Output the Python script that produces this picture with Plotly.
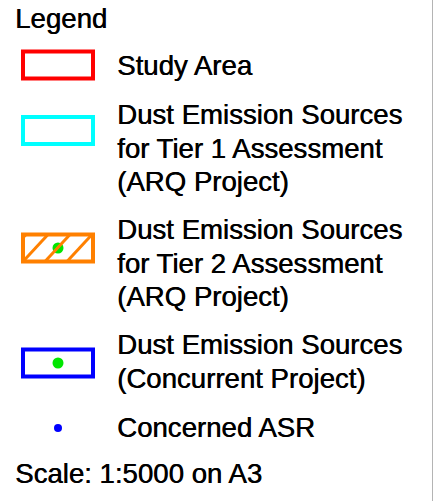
import plotly.graph_objects as go

# ---- data ----
title = "Legend"
entry_labels = [
    ["Study Area"],
    ["Dust Emission Sources", "for Tier 1 Assessment", "(ARQ Project)"],
    ["Dust Emission Sources", "for Tier 2 Assessment", "(ARQ Project)"],
    ["Dust Emission Sources", "(Concurrent Project)"],
    ["Concerned ASR"],
]
entry_kinds = ["rect", "rect", "hatch", "rect_dot", "dot"]
entry_colors = ["#ff0000", "#00ffff", "#ff8000", "#0000ff", "#0000ff"]
scale_text = "Scale: 1:5000 on A3"

# ---- layout params ----
W, H = 433, 501
FONT = dict(family="Liberation Sans, Arial, sans-serif", size=27.6, color="black",
            shadow="0.5px 0px 0px black")
line_gap = 33.5
first_line_y = [65, 114.5, 229.5, 344.5, 427.5]
text_x = 117
sym_x0, sym_x1 = 23, 93
sym_h = 27
dot_green = "#00e600"

fig = go.Figure()
shapes = []
annotations = []

def add_text(x, y, s):
    annotations.append(dict(x=x, y=y, xref="x", yref="y", text=s, showarrow=False,
                             xanchor="left", yanchor="middle", font=FONT, borderpad=0))

add_text(14, 18.5, title)
add_text(14, 473, scale_text)

dot_x, dot_y = [], []
asr_x, asr_y = [], []
for lines, kind, col, y0 in zip(entry_labels, entry_kinds, entry_colors, first_line_y):
    for i, s in enumerate(lines):
        add_text(text_x - 1, y0 + i * line_gap, s)
    if kind == "dot":
        asr_x.append((sym_x0 + sym_x1) / 2)
        asr_y.append(y0 + 0.5)
        continue
    if kind == "rect":
        cy = y0 + (0 if len(lines) == 1 else 16)
    else:
        cy = y0 + 18.5
    top, bot = cy - sym_h / 2, cy + sym_h / 2
    shapes.append(dict(type="rect", xref="x", yref="y", x0=sym_x0, x1=sym_x1, y0=top, y1=bot,
                       line=dict(color=col, width=4), layer="above"))
    if kind == "hatch":
        dx = 25
        spacing = 22
        for b in [sym_x0 - spacing, sym_x0, sym_x0 + spacing, sym_x0 + 2 * spacing]:
            xa, ya, xb, yb = b, bot, b + dx, top
            if xa < sym_x0:
                t = (sym_x0 - xa) / dx
                xa, ya = sym_x0, bot - t * (bot - top)
            if xb > sym_x1:
                t = (xb - sym_x1) / dx
                xb, yb = sym_x1, top + t * (bot - top)
            shapes.append(dict(type="line", xref="x", yref="y", x0=xa, y0=ya, x1=xb, y1=yb,
                               line=dict(color=col, width=3)))
    if kind in ("hatch", "rect_dot"):
        dot_x.append((sym_x0 + sym_x1) / 2)
        dot_y.append(cy)

fig.add_trace(go.Scatter(x=dot_x, y=dot_y, mode="markers",
                         marker=dict(color=dot_green, size=11, line=dict(width=0)),
                         hoverinfo="skip", showlegend=False))
fig.add_trace(go.Scatter(x=asr_x, y=asr_y, mode="markers",
                         marker=dict(color="#0000ff", size=8, line=dict(width=0)),
                         hoverinfo="skip", showlegend=False))

# right border
shapes.append(dict(type="line", xref="x", yref="y", x0=432.5, x1=432.5, y0=0, y1=H,
                   line=dict(color="#b4b4b4", width=1)))

fig.update_layout(
    width=W, height=H, margin=dict(l=0, r=0, t=0, b=0),
    paper_bgcolor="white", plot_bgcolor="white",
    xaxis=dict(range=[0, W], visible=False, fixedrange=True),
    yaxis=dict(range=[H, 0], visible=False, fixedrange=True),
    shapes=shapes, annotations=annotations, showlegend=False,
)
fig.write_html("out.html", config=dict(displayModeBar=False),
               post_script="document.body.style.margin='0';document.body.style.overflow='hidden';")
